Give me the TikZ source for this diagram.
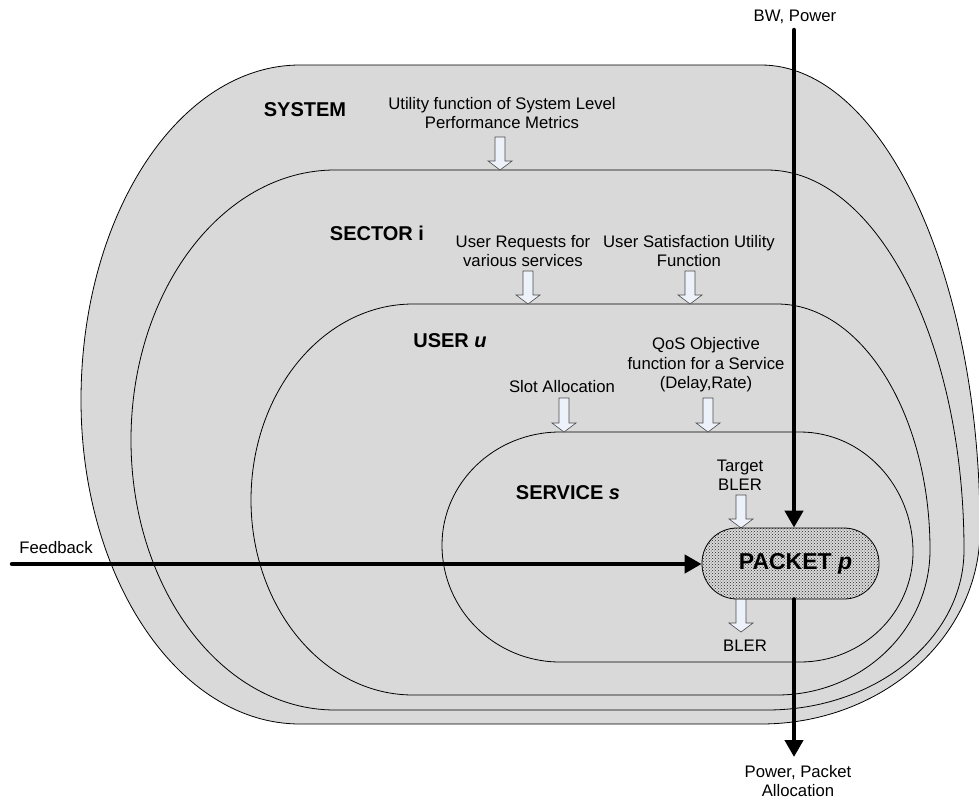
\documentclass[tikz,border=0pt]{standalone}
\usepackage{fontspec}
\setmainfont{Liberation Sans}
\usetikzlibrary{arrows.meta,patterns}
\definecolor{shapegray}{RGB}{217,217,217}
\definecolor{hollowfill}{RGB}{236,241,250}
\newcommand\hollowarr[3]{%
  \draw[hollow] (#1-5,#2) -- (#1+5,#2) -- (#1+5,#3-9) -- (#1+12,#3-9) -- (#1,#3) -- (#1-12,#3-9) -- (#1-5,#3-9) -- cycle;}
\begin{document}
\begin{tikzpicture}[x=1pt,y=-1pt,
  layer/.style={fill=shapegray,draw=black,line width=0.8pt},
  txt/.style={font=\fontsize{16.7}{19.5}\selectfont,align=center,inner sep=0pt},
  title/.style={font=\fontsize{20}{24}\selectfont\bfseries,inner sep=0pt},
  thickarrow/.style={line width=4.5pt,line cap=round,-{Triangle[width=18pt,length=17pt]}},
  hollow/.style={fill=hollowfill,draw=black!70,line width=0.6pt},
  packetbox/.style={draw=black,line width=0.8pt,rounded corners=35pt,minimum width=177pt,minimum height=71pt,
     preaction={fill=gray!30},pattern=crosshatch dots,pattern color=black!85,
     font=\fontsize{23}{27}\selectfont\bfseries,inner sep=0pt}
]
\useasboundingbox (0,0) rectangle (979,803);

% SYSTEM
\draw[layer] (300,65) -- (761,65)
  arc[start angle=-90,end angle=0,x radius=219,y radius=465]
  arc[start angle=0,end angle=90,x radius=219,y radius=194]
  -- (300,724)
  arc[start angle=90,end angle=180,x radius=219,y radius=324]
  arc[start angle=180,end angle=270,x radius=219,y radius=335] -- cycle;
% SECTOR
\draw[layer] (335,170) -- (767,170)
  arc[start angle=-90,end angle=0,x radius=197,y radius=380]
  arc[start angle=0,end angle=90,x radius=197,y radius=160]
  -- (335,710)
  arc[start angle=90,end angle=180,x radius=204,y radius=270]
  arc[start angle=180,end angle=270,x radius=204,y radius=270] -- cycle;
% USER
\draw[layer] (413,304) -- (777,304)
  arc[start angle=-90,end angle=0,x radius=153,y radius=246]
  arc[start angle=0,end angle=90,x radius=153,y radius=145]
  -- (413,695)
  arc[start angle=90,end angle=180,x radius=162,y radius=195]
  arc[start angle=180,end angle=270,x radius=162,y radius=196] -- cycle;
% SERVICE
\draw[layer] (560,432) -- (800,432)
  arc[start angle=-90,end angle=0,x radius=113,y radius=120]
  arc[start angle=0,end angle=90,x radius=113,y radius=110]
  -- (560,662)
  arc[start angle=90,end angle=180,x radius=118,y radius=117]
  arc[start angle=180,end angle=270,x radius=118,y radius=113] -- cycle;

% labels
\node[title] (systemlbl) at (305,110) {SYSTEM};
\node[txt] (sysutil) at (502,113) {Utility function of System Level\\Performance Metrics};
\node[title] (sectorlbl) at (377,233) {SECTOR i};
\node[txt] (userreq) at (523,251) {User Requests for\\various services};
\node[txt] (usersat) at (689,251) {User Satisfaction Utility\\Function};
\node[title] (userlbl) at (450,341) {USER \textit{u}};
\node[txt] (qos) at (706,365) {QoS Objective\\function for a Service\\(Delay,Rate)};
\node[txt] (slot) at (562,387) {Slot Allocation};
\node[title] (servicelbl) at (568,493) {SERVICE \textit{s}};
\node[txt] (target) at (740,475) {Target\\BLER};
\node[txt] (bler) at (745,646) {BLER};
\node[txt] (bw) at (795,17) {BW, Power};
\node[txt] (fb) at (56,548) {Feedback};
\node[txt] (ppa) at (798,781) {Power, Packet\\Allocation};

% hollow arrows
\hollowarr{500}{137}{170}
\hollowarr{528}{271}{304}
\hollowarr{690}{271}{304}
\hollowarr{564}{398}{432}
\hollowarr{708}{398}{432}
\hollowarr{741}{495}{528}
\hollowarr{741}{595}{632}

% packet
\node[packetbox] (packet) at (790.5,563.5) {\hspace*{10pt}PACKET \textit{p}};

% thick arrows
\coordinate (bwtop) at (794,30);
\coordinate (fbstart) at (12,564);
\coordinate (outend) at (794,757);
\draw[thickarrow] (bwtop) -- (bwtop |- packet.north);
\draw[thickarrow] (fbstart) -- (fbstart -| packet.west);
\draw[thickarrow] (outend |- packet.south) -- (outend);
\end{tikzpicture}
\end{document}
